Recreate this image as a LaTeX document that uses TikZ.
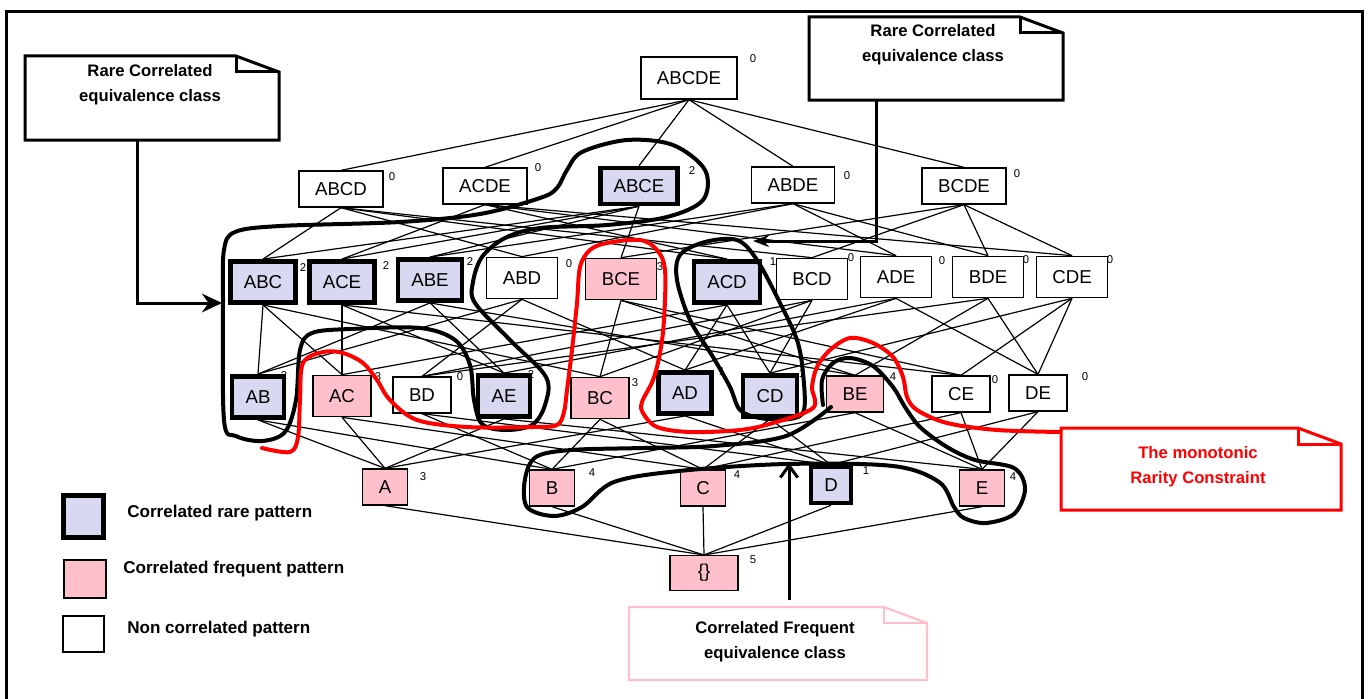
\documentclass[tikz,border=0pt]{standalone}
\usepackage{fontspec}
\setmainfont{Liberation Sans}
\usetikzlibrary{arrows.meta,calc,backgrounds}

\definecolor{rarefill}{RGB}{216,216,240}
\definecolor{freqfill}{RGB}{255,192,203}

% note outline with a folded corner, drawn round an empty node
\newcommand{\notefold}[2]{%
  \draw[#2] (#1.south west) -- (#1.north west) -- ($(#1.north east)+(-43,0)$)
    -- ($(#1.north east)+(0,16)$) -- (#1.south east) -- cycle;
  \draw[#2] ($(#1.north east)+(-43,0)$) -- ++(0,16) -- ($(#1.north east)+(0,16)$);}

\begin{document}
\begin{tikzpicture}[x=0.75pt,y=-0.75pt,
    pat/.style={draw,line width=1pt,inner xsep=12pt,inner ysep=0pt,minimum height=27pt,
      font=\fontsize{14}{16}\selectfont},
    plain/.style={pat,fill=white},
    freq/.style={pat,fill=freqfill},
    rare/.style={pat,fill=rarefill,line width=3.4pt,inner xsep=10pt},
    tall/.style={minimum height=31pt},
    cnt/.style={inner sep=0pt,font=\fontsize{8.5}{10}\selectfont},
    edge/.style={line width=0.9pt},
    hull/.style={line width=3pt,line cap=round,line join=round},
    redhull/.style={hull,red},
    notebox/.style={inner sep=0pt,outer sep=0pt,fill=white},
    lbl/.style={inner sep=0pt,align=center,font=\bfseries\fontsize{12.5}{18.75}\selectfont},
    keytext/.style={inner sep=0pt,anchor=west,font=\bfseries\fontsize{12.8}{15}\selectfont}]
  \useasboundingbox (0,0) rectangle (1370,699);
  \draw[line width=2.25pt] (6,699) |- (1362,12) -- (1362,699);

  % lattice
  \node[plain,minimum height=31.5pt] (ABCDE) at (689,78) {ABCDE};
  \node[cnt] (cABCDE) at (753,59) {0};

  \node[plain] (ABCD) at (341,189) {ABCD};
  \node[cnt] (cABCD) at (392,177) {0};
  \node[plain] (ACDE) at (485,186) {ACDE};
  \node[cnt] (cACDE) at (538,168) {0};
  \node[rare] (ABCE) at (639,186) {ABCE};
  \node[cnt] (cABCE) at (692,171) {2};
  \node[plain] (ABDE) at (793,185) {ABDE};
  \node[cnt] (cABDE) at (847,176) {0};
  \node[plain] (BCDE) at (964,186) {BCDE};
  \node[cnt] (cBCDE) at (1017,174) {0};

  \node[rare,tall] (ABC) at (263,282) {ABC};
  \node[cnt] (cABC) at (303,268) {2};
  \node[rare,tall] (ACE) at (342,282) {ACE};
  \node[cnt] (cACE) at (386,266) {2};
  \node[rare,tall] (ABE) at (430,280) {ABE};
  \node[cnt] (cABE) at (470,262) {2};
  \node[plain,tall] (ABD) at (522,278) {ABD};
  \node[cnt] (cABD) at (569,264) {0};
  \node[freq,tall] (BCE) at (621,279) {BCE};
  \node[cnt] (cBCE) at (660,267) {3};
  \node[rare,tall] (ACD) at (727,282) {ACD};
  \node[cnt] (cACD) at (773,262) {1};
  \node[plain,tall] (BCD) at (812,279) {BCD};
  \node[cnt] (cBCD) at (851,258) {0};
  \node[plain,tall] (ADE) at (896,277) {ADE};
  \node[cnt] (cADE) at (942,261) {0};
  \node[plain,tall] (BDE) at (988,277) {BDE};
  \node[cnt] (cBDE) at (1026,260) {0};
  \node[plain,tall] (CDE) at (1072,277) {CDE};
  \node[cnt] (cCDE) at (1110,260) {0};

  \node[rare,tall] (AB) at (258,397) {AB};
  \node[cnt] (cAB) at (284,376) {2};
  \node[freq,tall] (AC) at (342,396) {AC};
  \node[cnt] (cAC) at (378,377) {3};
  \node[plain] (BD) at (422,395) {BD};
  \node[cnt] (cBD) at (460,377) {0};
  \node[rare,tall] (AE) at (504,396) {AE};
  \node[cnt] (cAE) at (531,375) {2};
  \node[freq,tall] (BC) at (600,398) {BC};
  \node[cnt] (cBC) at (635,383) {3};
  \node[rare,tall] (AD) at (685,393) {AD};
  \node[cnt] (cAD) at (722,372) {1};
  \node[rare,tall] (CD) at (770,396) {CD};
  \node[cnt] (cCD) at (802,374) {1};
  \node[freq] (BE) at (855,394) {BE};
  \node[cnt] (cBE) at (893,377) {4};
  \node[plain] (CE) at (961,394) {CE};
  \node[cnt] (cCE) at (995,380) {0};
  \node[plain] (DE) at (1038,393) {DE};
  \node[cnt] (cDE) at (1085,377) {0};

  \node[freq] (A) at (385,487) {A};
  \node[cnt] (cA) at (423,477) {3};
  \node[freq] (B) at (552,488) {B};
  \node[cnt] (cB) at (592,473) {4};
  \node[freq] (C) at (703,488) {C};
  \node[cnt] (cC) at (737,475) {4};
  \node[rare] (D) at (831,485) {D};
  \node[cnt] (cD) at (866,471) {1};
  \node[freq] (E) at (982,488) {E};
  \node[cnt] (cE) at (1013,477) {4};

  \node[freq,minimum width=51pt,minimum height=26pt] (empty) at (704,573) {\{\}};
  \node[cnt] (cempty) at (753,560) {5};

  \begin{pgfonlayer}{background}
    \foreach \u/\l in {ABCDE/ABCD,ABCDE/ACDE,ABCDE/ABCE,ABCDE/ABDE,ABCDE/BCDE,
        ABCD/ABC,ABCD/ABD,ABCD/ACD,ABCD/BCD,ABCE/ABC,ABCE/ABE,ABCE/ACE,ABCE/BCE,
        ABDE/ABD,ABDE/ABE,ABDE/ADE,ABDE/BDE,ACDE/ACD,ACDE/ACE,ACDE/ADE,ACDE/CDE,
        BCDE/BCD,BCDE/BCE,BCDE/BDE,BCDE/CDE,
        ABC/AB,ABC/AC,ABC/BC,ACE/AC,ACE/AE,ACE/CE,ABE/AB,ABE/AE,ABE/BE,
        ABD/AB,ABD/AD,ABD/BD,BCE/BC,BCE/BE,BCE/CE,ACD/AC,ACD/AD,ACD/CD,
        BCD/BC,BCD/BD,BCD/CD,ADE/AD,ADE/AE,ADE/DE,BDE/BD,BDE/BE,BDE/DE,
        CDE/CD,CDE/CE,CDE/DE,
        AB/A,AB/B,AC/A,AC/C,BD/B,BD/D,AE/A,AE/E,BC/B,BC/C,
        AD/A,AD/D,CD/C,CD/D,BE/B,BE/E,CE/C,CE/E,DE/D,DE/E,
        A/empty,B/empty,C/empty,D/empty,E/empty}
      \draw[edge] (\u.south) -- (\l.north);
  \end{pgfonlayer}

  % equivalence classes
  \draw[hull] plot[smooth cycle,tension=0.55] coordinates {(627,140) (673,145) (705,170)
    (703,200) (667,217) (607,225) (540,228) (505,238) (482,257) (473,282) (475,303)
    (510,340) (546,377) (545,405) (532,425) (505,430) (482,424) (474,400) (470,365)
    (455,340) (420,328) (350,329) (312,333) (300,350) (296,400) (285,432) (262,441)
    (236,436) (224,420) (223,300) (224,250) (235,232) (280,226) (400,222) (480,214)
    (540,198) (557,188) (567,170) (582,152)};
  \draw[hull] plot[smooth cycle,tension=0.55] coordinates {(737,240) (757,260) (780,303)
    (797,340) (803,373) (804,410) (790,419) (760,418) (740,410) (730,387) (713,357)
    (690,320) (677,280) (680,255) (705,242)};
  \draw[hull] plot[smooth,tension=0.55] coordinates {(823,405) (822,380) (833,363)
    (850,358) (873,366) (893,387) (905,407) (920,427) (947,447) (975,460) (1014,468)
    (1025,489) (1014,514) (986,523) (964,518) (954,507) (939,482) (893,466) (786,464)
    (679,471) (614,482) (582,507) (554,516) (527,507) (525,479) (536,457) (571,450)
    (643,448) (714,446) (786,436) (831,407)};
  \draw[redhull] plot[smooth,tension=0.55] coordinates {(262,448) (290,452) (298,437)
    (300,400) (303,363) (323,352) (343,353) (363,363) (377,380) (390,400) (417,420)
    (467,427) (533,427) (557,425) (564,412) (567,390) (572,350) (577,303) (580,267)
    (590,250) (607,243) (640,240) (657,250) (665,270) (664,320) (660,353) (653,380)
    (642,402) (643,413) (657,427) (690,432) (740,430) (773,423) (813,408) (812,387)
    (817,367) (830,350) (850,338) (873,343) (893,357) (903,377) (907,397) (917,410)
    (947,423) (997,430) (1061,432)};

  % notes
  \node[notebox,minimum width=190.5pt,minimum height=63pt] (rareL) at (152,98) {};
  \notefold{rareL}{line width=2.25pt}
  \node[lbl] (rareLtext) at (150,84.5) {Rare Correlated\\equivalence class};
  \node[notebox,minimum width=190.5pt,minimum height=62.25pt] (rareR) at (936,58.5) {};
  \notefold{rareR}{line width=2.25pt}
  \node[lbl] (rareRtext) at (933,44.5) {Rare Correlated\\equivalence class};
  \node[notebox,minimum width=223.5pt,minimum height=54.75pt] (freqN) at (778,643.5) {};
  \notefold{freqN}{line width=1.6pt,draw=freqfill}
  \node[lbl] (freqNtext) at (775,642) {Correlated Frequent\\equivalence class};
  \node[notebox,minimum width=210pt,minimum height=61.5pt] (rarity) at (1201,469) {};
  \notefold{rarity}{line width=2.25pt,draw=red}
  \node[lbl,text=red] (raritytext) at (1198,467) {The monotonic\\Rarity Constraint};

  \coordinate (tipL) at (222,303);
  \coordinate (tipR) at (753,241);
  \coordinate (tipB) at (789,463);
  \draw[line width=2.25pt,-{Stealth[length=15pt,width=14pt]}] ($(rareL.south)+(-15,0)$) |- (tipL);
  \draw[line width=2.25pt,-{Stealth[length=12pt,width=9pt]}] ($(rareR.south)+(-60,0)$) |- (tipR);
  \draw[line width=2.25pt,-{Straight Barb[length=9pt,width=13pt]}] ($(freqN.north)+(11,-7)$) -- (tipB);

  % key
  \node[rare,minimum width=30pt,minimum height=31.5pt,inner sep=0pt] (keyRare) at (83.5,516.5) {};
  \node[keytext] (keyRareText) at (127,513) {Correlated rare pattern};
  \node[freq,minimum width=31.5pt,minimum height=28.5pt,inner sep=0pt] (keyFreq) at (85,579) {};
  \node[keytext] (keyFreqText) at (123,569) {Correlated frequent pattern};
  \node[plain,minimum width=30.75pt,minimum height=27pt,inner sep=0pt] (keyPlain) at (83.5,634) {};
  \node[keytext] (keyPlainText) at (127,629) {Non correlated pattern};
\end{tikzpicture}
\end{document}
